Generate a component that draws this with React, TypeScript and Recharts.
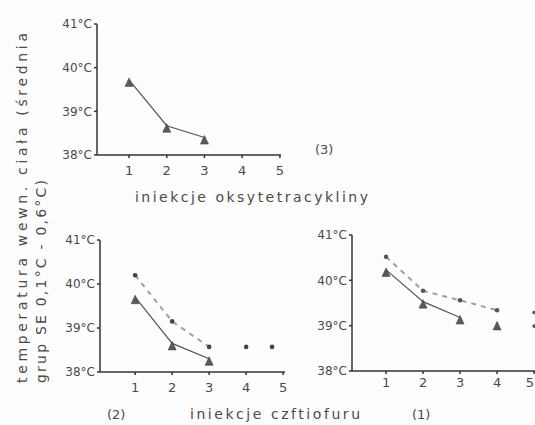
import React from "react";
import { LineChart, Line, XAxis, YAxis } from "recharts";

// injection number on x, mean body temperature (°C) on y
const xTicks = [1, 2, 3, 4, 5];
const yTicks = [38, 39, 40, 41];

// (3) oksytetracyklina
const oxyX = [1, 2, 3];
const oxyTemp = [39.72, 38.67, 38.4];

// (2) ceftiofur
const cef2X = [1, 2, 3];
const cef2Solid = [39.7, 38.65, 38.3];
const cef2Dashed = [40.2, 39.15, 38.57];
const cef2LateX = [4, 4.7];
const cef2LateDots = [38.57, 38.57];

// (1) ceftiofur
const cef1X = [1, 2, 3];
const cef1Solid = [40.23, 39.53, 39.18];
const cef1DashX = [1, 2, 3, 4];
const cef1Dashed = [40.52, 39.77, 39.56, 39.34];
const cef1TriX = [4];
const cef1Tri = [39.05];
const cef1EdgeX = [5, 5];
const cef1EdgeDots = [39.29, 38.99];

const pts = (xs: number[], ys: number[]) => xs.map((x, i) => ({ x, y: ys[i] }));

const INK = "#4a4a4a";
const FONT = "DejaVu Sans, sans-serif";
const PAGE_W = 535;

function Tri(props: any) {
  const { cx, cy } = props;
  if (cx == null || cy == null) return null;
  return (
    <path
      d={`M${cx},${cy - 2} L${cx + 4},${cy + 6.5} L${cx - 4},${cy + 6.5} Z`}
      fill="#5a5a5a"
      stroke="#444"
      strokeWidth={0.6}
    />
  );
}

// x tick label; right-aligned when it would run off the page edge
function XTick(props: any) {
  const { x, y, payload, edge } = props;
  const atEdge = x + 5 > edge;
  return (
    <text
      x={atEdge ? edge - 1 : x}
      y={y}
      dy="0.71em"
      textAnchor={atEdge ? "end" : "middle"}
      fill={INK}
      fontSize={13}
      fontFamily={FONT}
    >
      {payload.value}
    </text>
  );
}

interface PanelProps {
  plotLeft: number;
  plotRight: number;
  plotTop: number;
  plotBottom: number;
  xDomain: [number, number];
  xTickMargin: number;
  children: React.ReactNode;
}

function Panel({ plotLeft, plotRight, plotTop, plotBottom, xDomain, xTickMargin, children }: PanelProps) {
  const width = plotRight - plotLeft + 55;
  const height = plotBottom - plotTop + 40;
  const left = plotLeft - 50;
  return (
    <div style={{ position: "absolute", left, top: plotTop - 10 }}>
      <LineChart width={width} height={height} margin={{ top: 10, right: 5, left: 0, bottom: 0 }}>
        <XAxis
          dataKey="x"
          type="number"
          domain={xDomain}
          allowDataOverflow
          ticks={xTicks}
          height={30}
          tickSize={3}
          tickMargin={xTickMargin}
          stroke="#333"
          strokeWidth={1.5}
          tick={<XTick edge={PAGE_W - left} />}
        />
        <YAxis
          type="number"
          domain={[38, 41]}
          ticks={yTicks}
          width={50}
          tickSize={3}
          tickMargin={2}
          stroke="#333"
          strokeWidth={1.5}
          tickFormatter={(v) => `${v}°C`}
          tick={{ fill: INK, fontSize: 12, fontFamily: FONT }}
        />
        {children}
      </LineChart>
    </div>
  );
}

export default function App() {
  return (
    <div
      style={{
        position: "absolute",
        left: 0,
        top: 0,
        width: PAGE_W,
        height: 425,
        overflow: "hidden",
        background: "#fdfdfd",
      }}
    >
      <Panel plotLeft={97} plotRight={281} plotTop={24} plotBottom={155} xDomain={[0.15, 5.03]} xTickMargin={8}>
        <Line
          data={pts(oxyX, oxyTemp)}
          dataKey="y"
          type="linear"
          stroke="#555"
          strokeWidth={1.2}
          dot={<Tri />}
          isAnimationActive={false}
        />
      </Panel>

      <Panel plotLeft={100} plotRight={285} plotTop={240} plotBottom={372} xDomain={[0.05, 5.05]} xTickMargin={8}>
        <Line
          data={pts(cef2X, cef2Dashed)}
          dataKey="y"
          type="linear"
          stroke="#a0a0a0"
          strokeWidth={2}
          strokeDasharray="5 5"
          dot={{ r: 2.3, fill: "#444", stroke: "none" }}
          isAnimationActive={false}
        />
        <Line
          data={pts(cef2LateX, cef2LateDots)}
          dataKey="y"
          stroke="none"
          dot={{ r: 2.3, fill: "#444", stroke: "none" }}
          isAnimationActive={false}
        />
        <Line
          data={pts(cef2X, cef2Solid)}
          dataKey="y"
          type="linear"
          stroke="#555"
          strokeWidth={1.2}
          dot={<Tri />}
          isAnimationActive={false}
        />
      </Panel>

      <Panel plotLeft={352} plotRight={540} plotTop={235} plotBottom={371} xDomain={[0.08, 5.16]} xTickMargin={4}>
        <Line
          data={pts(cef1DashX, cef1Dashed)}
          dataKey="y"
          type="linear"
          stroke="#a0a0a0"
          strokeWidth={2}
          strokeDasharray="5 5"
          dot={{ r: 2.3, fill: "#555", stroke: "none" }}
          isAnimationActive={false}
        />
        <Line
          data={pts(cef1X, cef1Solid)}
          dataKey="y"
          type="linear"
          stroke="#555"
          strokeWidth={1.2}
          dot={<Tri />}
          isAnimationActive={false}
        />
        <Line
          data={pts(cef1TriX, cef1Tri)}
          dataKey="y"
          stroke="none"
          dot={<Tri />}
          isAnimationActive={false}
        />
        <Line
          data={pts(cef1EdgeX, cef1EdgeDots)}
          dataKey="y"
          stroke="none"
          dot={{ r: 1.8, fill: "#555", stroke: "none" }}
          isAnimationActive={false}
        />
      </Panel>

      <svg
        width={PAGE_W}
        height={425}
        style={{ position: "absolute", left: 0, top: 0, pointerEvents: "none" }}
        fontFamily={FONT}
        fill={INK}
      >
        <text transform="translate(27,383) rotate(-90)" fontSize={14} textLength={350} lengthAdjust="spacing">
          temperatura wewn. ciała (średnia
        </text>
        <text transform="translate(46,383) rotate(-90)" fontSize={14} textLength={203} lengthAdjust="spacing">
          grup SE 0,1°C - 0,6°C)
        </text>
        <text x={315} y={154} fontSize={13}>(3)</text>
        <text x={135} y={202} fontSize={14} textLength={233} lengthAdjust="spacing">
          iniekcje oksytetracykliny
        </text>
        <text x={107} y={419} fontSize={13}>(2)</text>
        <text x={190} y={419} fontSize={14} textLength={170} lengthAdjust="spacing">
          iniekcje czftiofuru
        </text>
        <text x={412} y={419} fontSize={13}>(1)</text>
      </svg>
    </div>
  );
}
